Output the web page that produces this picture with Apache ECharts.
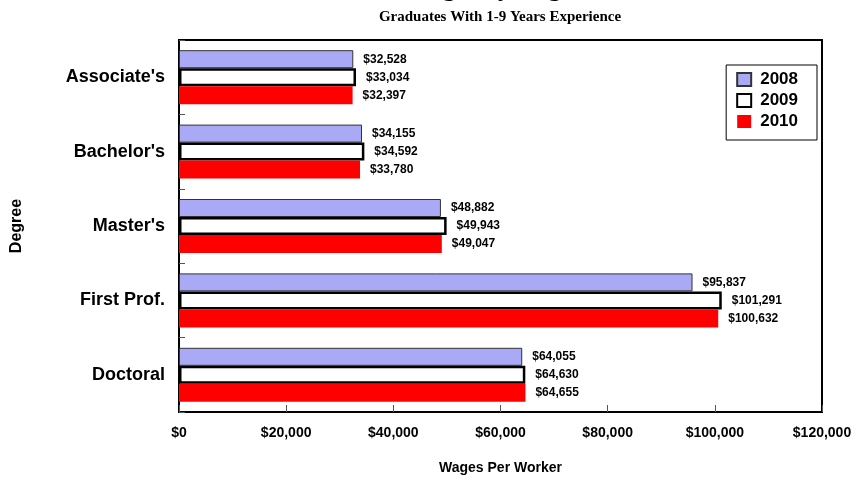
<!DOCTYPE html>
<html>
<head>
<meta charset="utf-8">
<script src="https://cdn.jsdelivr.net/npm/echarts@6/dist/echarts.min.js"></script>
<style>
    html, body { margin: 0; padding: 0; background: #fff; }
    #chart { width: 860px; height: 480px; }
</style>
</head>
<body>
<div id="chart"></div>
<script>
// 数据
var degrees = ["Associate's", "Bachelor's", "Master's", 'First Prof.', 'Doctoral'];
var years = ['2008', '2009', '2010'];
var wages2008 = [32528, 34155, 48882, 95837, 64055];
var wages2009 = [33034, 34592, 49943, 101291, 64630];
var wages2010 = [32397, 33780, 49047, 100632, 64655];
var xTicks = [0, 20000, 40000, 60000, 80000, 100000, 120000];

var font = 'Liberation Sans, Arial, sans-serif';
var serif = 'Liberation Serif, Times New Roman, serif';

function money(v) {
    return '$' + Number(v).toLocaleString('en-US');
}

var labelStyle = {
    show: true,
    position: 'right',
    distance: 10,
    fontFamily: font,
    fontWeight: 'bold',
    fontSize: 12,
    color: '#000',
    formatter: function (p) { return money(p.value); }
};

var myChart = echarts.init(document.getElementById('chart'));
var option = {
    animation: false,
    backgroundColor: '#fff',
    title: [{
        // 主标题在原图中被裁掉，只露出下伸部分
        text: 'Wages by Degree',
        left: 495,
        textAlign: 'center',
        top: -29,
        textStyle: {fontFamily: serif, fontWeight: 'bold', fontSize: 26, color: '#000'}
    }, {
        text: 'Graduates With 1-9 Years Experience',
        left: 495,
        textAlign: 'center',
        top: 5,
        textStyle: {fontFamily: serif, fontWeight: 'bold', fontSize: 15, color: '#000'}
    }],
    legend: {
        data: years,
        orient: 'vertical',
        right: 43,
        top: 65,
        padding: [6, 19, 10, 10],
        itemGap: 4,
        itemWidth: 14,
        itemHeight: 13,
        icon: 'rect',
        borderColor: '#000',
        borderWidth: 1,
        textStyle: {fontFamily: font, fontWeight: 'bold', fontSize: 17, color: '#000', padding: [0, 0, 0, 4]}
    },
    grid: {
        left: 179,
        right: 38,
        top: 40,
        bottom: 68,
        outerBoundsMode: 'none',
        containLabel: false,
        show: true,
        borderColor: '#000',
        borderWidth: 2
    },
    xAxis: {
        type: 'value',
        min: xTicks[0],
        max: xTicks[xTicks.length - 1],
        interval: xTicks[1] - xTicks[0],
        splitLine: {show: false},
        axisLine: {show: true, lineStyle: {color: '#000', width: 2}},
        axisTick: {show: true, inside: true, length: 7, lineStyle: {color: '#555'}},
        axisLabel: {
            margin: 14,
            fontFamily: font,
            fontWeight: 'bold',
            fontSize: 14,
            color: '#000',
            formatter: money
        },
        name: 'Wages Per Worker',
        nameLocation: 'middle',
        nameGap: 49,
        nameTextStyle: {fontFamily: font, fontWeight: 'bold', fontSize: 14, color: '#000'}
    },
    yAxis: {
        type: 'category',
        data: degrees,
        inverse: true,
        axisLine: {show: true, lineStyle: {color: '#000', width: 2}},
        axisTick: {show: true, inside: true, length: 6, lineStyle: {color: '#555'}},
        axisLabel: {
            margin: 14,
            fontFamily: font,
            fontWeight: 'bold',
            fontSize: 18,
            color: '#000'
        },
        name: 'Degree',
        nameLocation: 'middle',
        nameRotate: 90,
        nameGap: 154,
        nameTextStyle: {fontFamily: font, fontWeight: 'bold', fontSize: 16, color: '#000'}
    },
    series: [{
        name: years[0],
        type: 'bar',
        data: wages2008,
        barWidth: 18,
        barGap: '0%',
        itemStyle: {color: '#a9a9f6', borderColor: '#333', borderWidth: 1},
        label: labelStyle
    }, {
        name: years[1],
        type: 'bar',
        data: wages2009,
        barWidth: 18,
        barGap: '0%',
        itemStyle: {color: '#fff', borderColor: '#000', borderWidth: 2.5},
        label: labelStyle
    }, {
        name: years[2],
        type: 'bar',
        data: wages2010,
        barWidth: 18,
        barGap: '0%',
        itemStyle: {color: '#ff0000'},
        label: labelStyle
    }]
};

myChart.setOption(option);
</script>
</body>
</html>
